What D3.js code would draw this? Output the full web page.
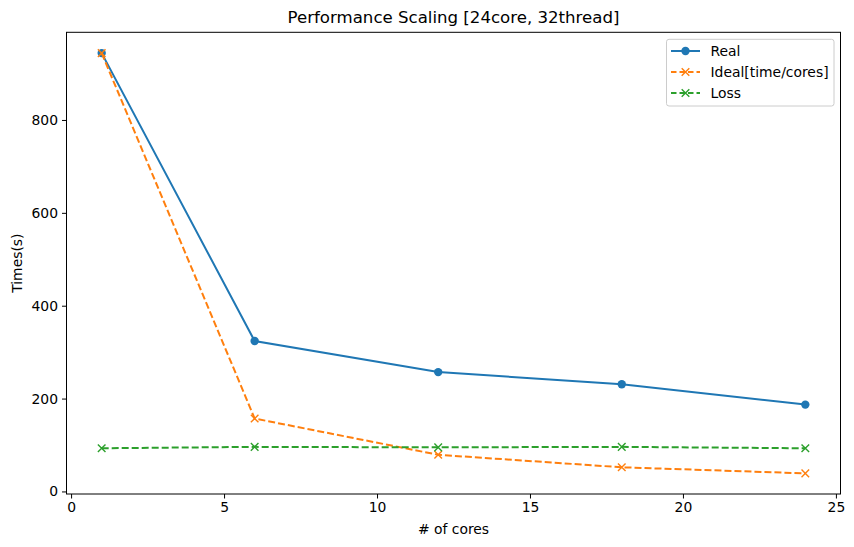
<!DOCTYPE html>
<html>
<head>
<meta charset="utf-8">
<script src="https://cdn.jsdelivr.net/npm/d3@7"></script>
<style>
  body { margin: 0; background: #fff; }
  svg { font-family: "DejaVu Sans", sans-serif; }
</style>
</head>
<body>
<svg id="chart" width="854" height="547"></svg>
<script>
// data
var cores = [1, 6, 12, 18, 24];
var real = [944, 324, 257, 231, 187];
var ideal = [944, 157, 79, 52, 39];
var loss = [93, 96, 95, 96, 93];
var xTicks = [0, 5, 10, 15, 20, 25];
var yTicks = [0, 200, 400, 600, 800];

var margin = {left: 66.5, top: 32.3, right: 13.5, bottom: 53};
var width = 854, height = 547;

var svg = d3.select("#chart");

var x = d3.scaleLinear()
    .domain([-0.15, 25.15])
    .range([margin.left, width - margin.right]);

var y = d3.scaleLinear()
    .domain([-5.5, 988.8])
    .range([height - margin.bottom, margin.top]);

var series = [
  {name: "Real", values: real, color: "#1f77b4", dash: null, marker: "circle"},
  {name: "Ideal[time/cores]", values: ideal, color: "#ff7f0e", dash: "7,3", marker: "x"},
  {name: "Loss", values: loss, color: "#2ca02c", dash: "7,3", marker: "x"}
];

// axes
var xAxis = svg.append("g")
    .attr("transform", "translate(0," + (height - margin.bottom) + ")")
    .call(d3.axisBottom(x).tickValues(xTicks).tickSize(4.5).tickPadding(4).tickFormat(d3.format("d")));

var yAxis = svg.append("g")
    .attr("transform", "translate(" + margin.left + ",0)")
    .call(d3.axisLeft(y).tickValues(yTicks).tickSize(4.5).tickPadding(4).tickFormat(d3.format("d")));

[xAxis, yAxis].forEach(function(a) {
  a.selectAll("text").attr("font-size", 13.9).attr("fill", "#000").attr("font-family", "DejaVu Sans");
  a.selectAll("line").attr("stroke", "#000").attr("stroke-width", 1);
  a.select(".domain").remove();
});

// frame
svg.append("rect")
    .attr("x", margin.left)
    .attr("y", margin.top)
    .attr("width", width - margin.right - margin.left)
    .attr("height", height - margin.bottom - margin.top)
    .attr("fill", "none")
    .attr("stroke", "#000")
    .attr("stroke-width", 1);

var line = d3.line()
    .x(function(d) { return x(d[0]); })
    .y(function(d) { return y(d[1]); });

function drawMarker(g, type, cx, cy, color) {
  if (type == "circle") {
    g.append("circle").attr("cx", cx).attr("cy", cy).attr("r", 4.2).attr("fill", color);
  } else {
    var s = 3.8;
    g.append("path")
      .attr("d", "M" + (cx - s) + "," + (cy - s) + "L" + (cx + s) + "," + (cy + s) +
                 "M" + (cx - s) + "," + (cy + s) + "L" + (cx + s) + "," + (cy - s))
      .attr("stroke", color)
      .attr("stroke-width", 1.4)
      .attr("fill", "none");
  }
}

series.forEach(function(s) {
  var pts = cores.map(function(c, i) { return [c, s.values[i]]; });
  var g = svg.append("g");
  g.append("path")
    .attr("d", line(pts))
    .attr("fill", "none")
    .attr("stroke", s.color)
    .attr("stroke-width", 2)
    .attr("stroke-dasharray", s.dash);
  pts.forEach(function(p) {
    drawMarker(g, s.marker, x(p[0]), y(p[1]), s.color);
  });
});

// title and labels
svg.append("text")
    .attr("x", (margin.left + width - margin.right) / 2)
    .attr("y", 23)
    .attr("text-anchor", "middle")
    .attr("font-size", 16.6)
    .text("Performance Scaling [24core, 32thread]");

svg.append("text")
    .attr("x", (margin.left + width - margin.right) / 2)
    .attr("y", 534)
    .attr("text-anchor", "middle")
    .attr("font-size", 13.9)
    .text("# of cores");

svg.append("text")
    .attr("transform", "translate(22," + ((margin.top + height - margin.bottom) / 2) + ") rotate(-90)")
    .attr("text-anchor", "middle")
    .attr("font-size", 13.9)
    .text("Times(s)");

// legend
var legend = svg.append("g");
legend.append("rect")
    .attr("x", 666.5).attr("y", 39.3)
    .attr("width", 167.5).attr("height", 66.7)
    .attr("rx", 2.5)
    .attr("fill", "#fff")
    .attr("fill-opacity", 0.8)
    .attr("stroke", "#ccc")
    .attr("stroke-width", 1);

series.forEach(function(s, i) {
  var cy = 51 + i * 21;
  legend.append("line")
    .attr("x1", 671).attr("x2", 700)
    .attr("y1", cy).attr("y2", cy)
    .attr("stroke", s.color)
    .attr("stroke-width", 2)
    .attr("stroke-dasharray", s.dash ? "5.5,3" : null);
  drawMarker(legend, s.marker, 685.5, cy, s.color);
  legend.append("text")
    .attr("x", 710.5)
    .attr("y", cy + 5)
    .attr("font-size", 13.9)
    .text(s.name);
});
</script>
</body>
</html>
